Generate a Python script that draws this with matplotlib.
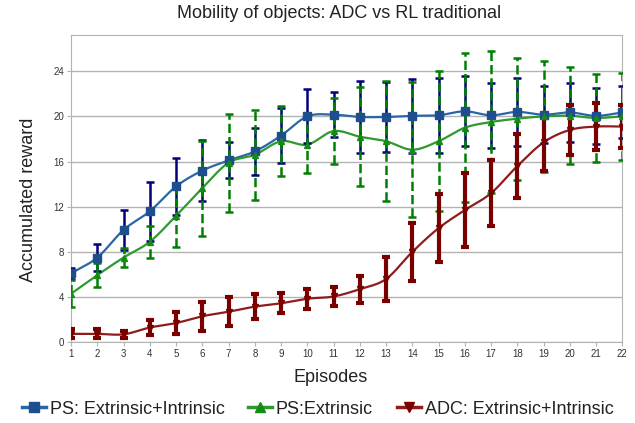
import matplotlib
matplotlib.use('Agg')
import matplotlib.pyplot as plt
import numpy as np

plt.rcParams['font.family'] = ['Liberation Sans', 'DejaVu Sans']

# ---- data ----
episodes = np.arange(1, 23)

ps_both = [6.1, 7.5, 9.95, 11.6, 13.8, 15.2, 16.1, 16.9, 18.3, 20.0, 20.15,
           19.95, 19.95, 20.05, 20.1, 20.45, 20.1, 20.4, 20.15, 20.35, 20.05, 20.35]
ps_both_err = [0.5, 1.2, 1.8, 2.6, 2.5, 2.7, 1.6, 2.1, 2.4, 2.4, 2.0,
               3.2, 3.1, 3.3, 3.3, 3.1, 2.9, 3.0, 2.5, 2.6, 2.5, 2.3]

ps_ext = [4.3, 5.95, 7.5, 8.9, 11.2, 13.65, 15.9, 16.6, 17.8, 17.5, 18.7,
          18.2, 17.8, 17.05, 17.8, 19.0, 19.5, 19.8, 20.0, 20.06, 19.86, 20.0]
ps_ext_err = [1.2, 1.1, 0.8, 1.4, 2.8, 4.2, 4.35, 4.0, 3.1, 2.5, 2.9,
              4.4, 5.3, 6.0, 6.2, 6.6, 6.3, 5.4, 4.9, 4.3, 3.9, 3.85]

adc_both = [0.74, 0.74, 0.7, 1.3, 1.7, 2.3, 2.7, 3.15, 3.45, 3.85, 4.05,
            4.7, 5.6, 8.0, 10.1, 11.7, 13.2, 15.6, 17.7, 18.8, 19.1, 19.1]
adc_both_err = [0.4, 0.4, 0.3, 0.7, 1.0, 1.3, 1.3, 1.1, 0.9, 0.9, 0.85,
                1.2, 1.95, 2.6, 3.0, 3.3, 2.9, 2.85, 2.5, 2.25, 2.1, 1.9]


def smooth(x, y, n=20):
    # Catmull-Rom spline through the points, for the curved lines
    y = np.asarray(y, dtype=float)
    x = np.asarray(x, dtype=float)
    xs, ys = [], []
    for i in range(len(y) - 1):
        p0 = y[i - 1] if i > 0 else 2 * y[0] - y[1]
        p1, p2 = y[i], y[i + 1]
        p3 = y[i + 2] if i + 2 < len(y) else 2 * y[-1] - y[-2]
        t = np.linspace(0, 1, n, endpoint=False)
        v = 0.5 * (2 * p1 + (-p0 + p2) * t + (2 * p0 - 5 * p1 + 4 * p2 - p3) * t ** 2
                   + (-p0 + 3 * p1 - 3 * p2 + p3) * t ** 3)
        xs.append(x[i] + (x[i + 1] - x[i]) * t)
        ys.append(v)
    xs.append([x[-1]])
    ys.append([y[-1]])
    return np.concatenate(xs), np.concatenate(ys)


fig = plt.figure(figsize=(6.35, 4.23), dpi=100)
ax = fig.add_axes([0.112, 0.191, 0.868, 0.726])

series = [
    (ps_both, ps_both_err, '#2a65a6', '#1f4e8c', '#00007a', 's', '-', 1.8, 'PS: Extrinsic+Intrinsic'),
    (ps_ext, ps_ext_err, '#2e9a2e', '#148c14', '#008000', '^', '--', 1.8, 'PS:Extrinsic'),
    (adc_both, adc_both_err, '#8e1c1c', '#7a0000', '#7a0000', 'v', '-', 3.0, 'ADC: Extrinsic+Intrinsic'),
]

handles = []
for vals, err, lc, mc, ec, mk, els, ew, lab in series:
    sx, sy = smooth(episodes, vals)
    ax.plot(sx, sy, color=lc, linewidth=1.6, zorder=3)
    eb = ax.errorbar(episodes, vals, yerr=err, fmt='none', ecolor=ec,
                     elinewidth=ew, capsize=3, capthick=ew, zorder=4)
    eb[2][0].set_linestyle(els)
    ax.plot(episodes, vals, linestyle='none', marker=mk, markersize=6 if mk == 's' else 5,
            color=mc, zorder=5)
    h, = ax.plot([], [], color=lc, linewidth=2.5, marker=mk, markersize=7, markerfacecolor=mc,
                 markeredgecolor=mc, label=lab)
    handles.append(h)

ax.set_xlim(1, 22)
ax.set_ylim(0, 27.2)
ax.set_xticks(episodes)
ax.set_yticks(np.arange(0, 25, 4))
ax.tick_params(axis='both', labelsize=7, length=3, color='#b3b3b3', pad=2, labelcolor='#333333')
ax.grid(axis='y', color='#b3b3b3', linewidth=1)
ax.set_axisbelow(True)
for s in ax.spines.values():
    s.set_color('#b3b3b3')

ax.set_xlabel('Episodes', fontsize=13, color='#222222')
ax.xaxis.set_label_coords(0.47, -0.088, transform=ax.transAxes)
ax.set_ylabel('Accumulated reward', fontsize=13, color='#222222')
ax.yaxis.set_label_coords(-0.062, 0.463, transform=ax.transAxes)
fig.text(0.534, 0.967, 'Mobility of objects: ADC vs RL traditional', ha='center', va='center',
         fontsize=13, color='#222222')

fig.legend(handles=handles, loc='center', bbox_to_anchor=(0.5, 0.033), ncol=3, frameon=False,
           fontsize=13, handlelength=1.35, handletextpad=0.2, columnspacing=1.3,
           labelcolor='#222222')

fig.savefig('out.png', dpi=100)
